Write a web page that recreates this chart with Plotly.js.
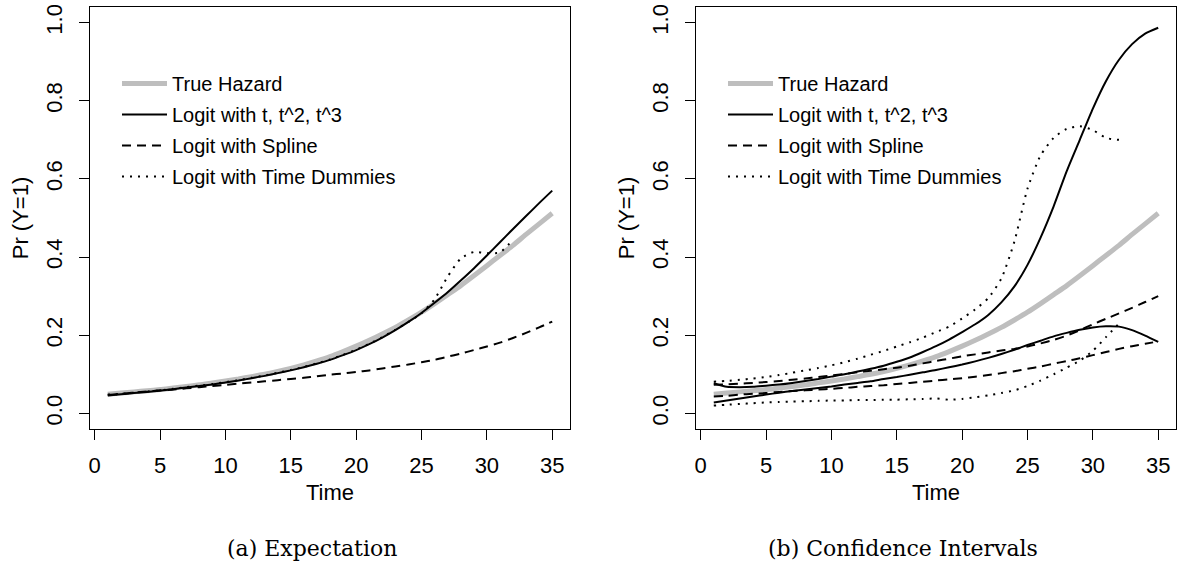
<!DOCTYPE html>
<html>
<head>
<meta charset="utf-8">
<script src="https://cdn.plot.ly/plotly-3.0.1.min.js"></script>
<style>html,body{margin:0;padding:0;background:#fff}#chart{width:1179px;height:572px}</style>
</head>
<body>
<div id="chart"></div>
<script>
// ---- data ----
const time = [1,2,3,4,5,6,7,8,9,10,11,12,13,14,15,16,17,18,19,20,21,22,23,24,25,26,27,28,29,30,31,32,33,34,35];
const timeDummy = time.slice(0, 32);

const trueHazard = [0.049,0.052,0.055,0.058,0.061,0.065,0.069,0.073,0.078,0.083,0.088,0.094,0.100,0.107,0.115,0.124,0.134,0.145,0.158,0.172,0.187,0.203,0.220,0.239,0.259,0.281,0.304,0.327,0.352,0.378,0.404,0.430,0.458,0.485,0.512];

// (a) Expectation
const expCubic  = [0.046,0.049,0.052,0.055,0.058,0.062,0.066,0.070,0.074,0.079,0.084,0.090,0.096,0.103,0.110,0.118,0.127,0.137,0.149,0.162,0.177,0.194,0.213,0.234,0.257,0.283,0.310,0.340,0.371,0.404,0.438,0.472,0.505,0.538,0.570];
const expSpline = [0.047,0.050,0.053,0.056,0.059,0.061,0.064,0.067,0.070,0.073,0.076,0.079,0.082,0.085,0.088,0.091,0.095,0.099,0.102,0.106,0.110,0.115,0.120,0.125,0.131,0.137,0.145,0.153,0.162,0.171,0.181,0.193,0.206,0.220,0.235];
const expDummy  = [0.048,0.050,0.053,0.056,0.059,0.063,0.067,0.071,0.075,0.080,0.085,0.091,0.097,0.104,0.111,0.119,0.128,0.138,0.150,0.163,0.178,0.195,0.214,0.234,0.256,0.292,0.350,0.396,0.413,0.410,0.412,0.445];

// (b) Confidence Intervals
const ciCubicHi  = [0.077,0.068,0.067,0.068,0.071,0.074,0.078,0.083,0.088,0.094,0.100,0.107,0.114,0.122,0.132,0.143,0.157,0.172,0.189,0.208,0.228,0.252,0.284,0.325,0.380,0.450,0.530,0.620,0.700,0.780,0.850,0.905,0.945,0.972,0.987];
const ciCubicLo  = [0.028,0.033,0.038,0.043,0.048,0.053,0.057,0.061,0.065,0.069,0.074,0.078,0.082,0.088,0.093,0.099,0.105,0.111,0.118,0.125,0.133,0.142,0.152,0.163,0.175,0.186,0.197,0.206,0.214,0.220,0.223,0.222,0.213,0.199,0.183];
const ciSplineHi = [0.073,0.074,0.076,0.078,0.080,0.083,0.086,0.089,0.093,0.097,0.101,0.105,0.109,0.113,0.117,0.122,0.128,0.134,0.140,0.146,0.151,0.156,0.161,0.165,0.171,0.179,0.188,0.199,0.213,0.228,0.242,0.256,0.270,0.285,0.300];
const ciSplineLo = [0.043,0.045,0.048,0.050,0.052,0.055,0.057,0.059,0.061,0.063,0.065,0.068,0.070,0.072,0.075,0.078,0.081,0.084,0.087,0.090,0.094,0.098,0.103,0.108,0.114,0.120,0.127,0.134,0.141,0.149,0.157,0.165,0.172,0.178,0.184];
const ciDummyHi  = [0.081,0.083,0.086,0.089,0.093,0.098,0.104,0.110,0.116,0.123,0.131,0.140,0.150,0.160,0.171,0.182,0.194,0.208,0.222,0.243,0.266,0.295,0.345,0.440,0.575,0.660,0.705,0.728,0.735,0.725,0.705,0.700];
const ciDummyLo  = [0.020,0.022,0.024,0.026,0.028,0.029,0.030,0.031,0.032,0.033,0.033,0.034,0.034,0.035,0.035,0.036,0.037,0.038,0.035,0.037,0.041,0.046,0.052,0.059,0.070,0.084,0.100,0.117,0.135,0.160,0.195,0.230];

const legendNames = ["True Hazard", "Logit with t, t^2, t^3", "Logit with Spline", "Logit with Time Dummies"];
const xTicks = [0,5,10,15,20,25,30,35];
const yTicks = [0,0.2,0.4,0.6,0.8,1.0];
const captions = ["(a) Expectation", "(b) Confidence Intervals"];

// ---- styles ----
const FONT = "Liberation Sans, Arial, Helvetica, sans-serif";
const styles = [
  {color: "#bebebe", width: 5, dash: "solid"},
  {color: "#000000", width: 2, dash: "solid"},
  {color: "#000000", width: 2, dash: "9px,6px"},
  {color: "#000000", width: 2, dash: "2px,6px"}
];

function tr(x, y, k, axis, leg, show) {
  return {
    type: "scatter", mode: "lines", x: x, y: y,
    xaxis: axis[0], yaxis: axis[1],
    name: legendNames[k], legend: leg, legendgroup: leg + k,
    showlegend: show,
    line: Object.assign({shape: "spline", smoothing: 0.6}, styles[k]),
    hoverinfo: "x+y+name"
  };
}

const A = ["x", "y"], B = ["x2", "y2"];
const data = [
  tr(time, trueHazard, 0, A, "legend", true),
  tr(time, expCubic, 1, A, "legend", true),
  tr(time, expSpline, 2, A, "legend", true),
  tr(timeDummy, expDummy, 3, A, "legend", true),

  tr(time, trueHazard, 0, B, "legend2", true),
  tr(time, ciCubicHi, 1, B, "legend2", true),
  tr(time, ciCubicLo, 1, B, "legend2", false),
  tr(time, ciSplineHi, 2, B, "legend2", true),
  tr(time, ciSplineLo, 2, B, "legend2", false),
  tr(timeDummy, ciDummyHi, 3, B, "legend2", true),
  tr(timeDummy, ciDummyLo, 3, B, "legend2", false)
];

const W = 1179, H = 572;
const px = v => v / W, py = v => 1 - v / H;

function xax(dom, anchor) {
  return {
    domain: dom, anchor: anchor, range: [-0.36, 36.36],
    tickvals: xTicks, ticks: "outside", ticklen: 10, tickwidth: 1, tickcolor: "#000",
    showline: true, mirror: true, linecolor: "#000", linewidth: 1,
    showgrid: false, zeroline: false, automargin: false,
    ticklabelstandoff: 7,
    tickfont: {family: FONT, size: 22, color: "#000"},
    title: {text: "Time", font: {family: FONT, size: 22, color: "#000"}, standoff: 7}
  };
}
function yax(dom, anchor) {
  return {
    domain: dom, anchor: anchor, range: [-0.04, 1.04],
    tickvals: yTicks, tickformat: ".1f", tickangle: -90,
    ticks: "outside", ticklen: 10, tickwidth: 1, tickcolor: "#000",
    showline: true, mirror: true, linecolor: "#000", linewidth: 1,
    showgrid: false, zeroline: false, automargin: false,
    ticklabelstandoff: 8,
    tickfont: {family: FONT, size: 22, color: "#000"},
    title: {text: "Pr (Y=1)", font: {family: FONT, size: 22, color: "#000"}, standoff: 7}
  };
}

const yDom = [py(429), py(7)];
const legendBase = {
  yanchor: "top", xanchor: "left", bgcolor: "rgba(0,0,0,0)", borderwidth: 0,
  font: {family: FONT, size: 20, color: "#000"}, itemwidth: 45, tracegroupgap: 2,
  traceorder: "grouped"
};

const layout = {
  width: W, height: H,
  margin: {l: 0, r: 0, t: 0, b: 0},
  paper_bgcolor: "#fff", plot_bgcolor: "#fff",
  font: {family: FONT, size: 20, color: "#000"},
  showlegend: true,
  xaxis: xax([px(90), px(570)], "y"),
  yaxis: yax(yDom, "x"),
  xaxis2: xax([px(696), px(1176)], "y2"),
  yaxis2: yax(yDom, "x2"),
  legend: Object.assign({x: px(117), y: py(64)}, legendBase),
  legend2: Object.assign({x: px(723), y: py(64)}, legendBase),
  annotations: [
    {text: captions[0], xref: "paper", yref: "paper", x: px(312), y: py(548), xanchor: "center", yanchor: "middle", showarrow: false, font: {family: "DejaVu Serif, serif", size: 22, color: "#000"}},
    {text: captions[1], xref: "paper", yref: "paper", x: px(903), y: py(548), xanchor: "center", yanchor: "middle", showarrow: false, font: {family: "DejaVu Serif, serif", size: 22, color: "#000"}}
  ]
};

Plotly.newPlot("chart", data, layout, {displayModeBar: false});
</script>
</body>
</html>
